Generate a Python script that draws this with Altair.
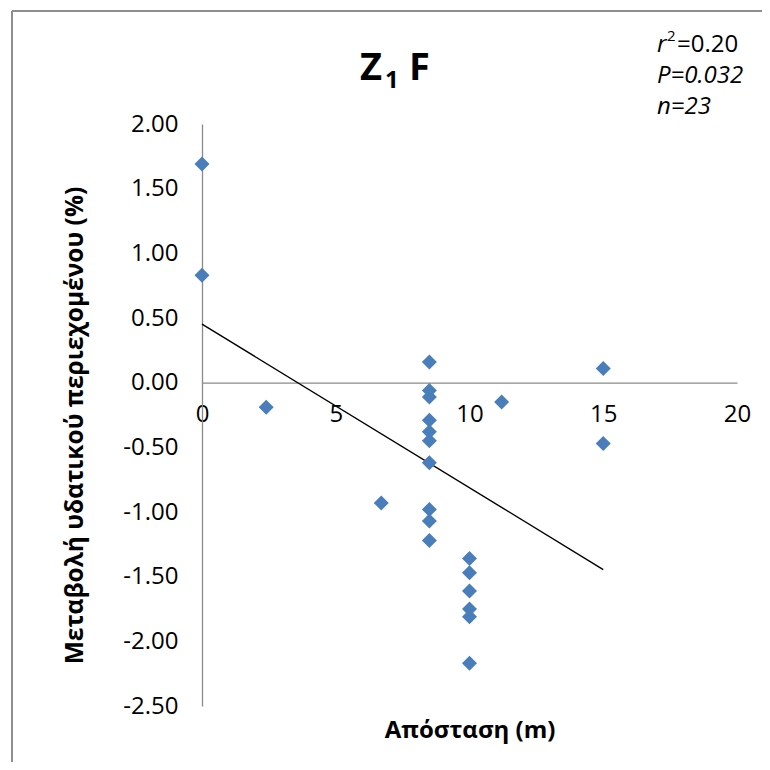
import altair as alt
import pandas as pd

# Data
distance = [0, 0, 2.4, 6.7,
            8.5, 8.5, 8.5, 8.5, 8.5, 8.5, 8.5, 8.5, 8.5, 8.5,
            10, 10, 10, 10, 10, 10,
            11.2, 15, 15]
change = [1.69, 0.83, -0.19, -0.93,
          0.16, -0.06, -0.11, -0.29, -0.38, -0.45, -0.62, -0.98, -1.07, -1.22,
          -1.36, -1.47, -1.61, -1.75, -1.81, -2.17,
          -0.15, 0.11, -0.47]

x_ticks = [0, 5, 10, 15, 20]
y_ticks = [-2.5, -2.0, -1.5, -1.0, -0.5, 0.0, 0.5, 1.0, 1.5, 2.0]

title_main = "Z"
title_sub = "1"
title_rest = "F"
stat_r = "r"
stat_r_sup = "2"
stat_r_val = "=0.20"
stat_p = "P=0.032"
stat_n = "n=23"
x_title = "Απόσταση (m)"
y_title = "Μεταβολή υδατικού περιεχομένου (%)"

df = pd.DataFrame({"distance": distance, "change": change})

W, H = 535, 582
FONT = "Open Sans"
GREY = "#8a8a8a"
zero_offset = -H * 2.5 / 4.5

x_enc = alt.X(
    "distance:Q",
    scale=alt.Scale(domain=[0, 20], nice=False, zero=False),
    axis=alt.Axis(
        values=x_ticks, format="d", offset=zero_offset, grid=False, ticks=False, tickSize=0,
        labelFlush=False, labelOverlap=False,
        domainColor=GREY, domainWidth=1.3, labelFont=FONT, labelFontSize=24,
        labelColor="#000000", labelPadding=20,
        title=x_title, titleFont=FONT, titleFontSize=24, titleFontWeight="bold",
        titleColor="#000000", titleX=W / 2, titleY=355, titleAlign="center",
        titleBaseline="alphabetic", titleAnchor="middle",
    ),
)
y_enc = alt.Y(
    "change:Q",
    scale=alt.Scale(domain=[-2.5, 2.0], nice=False, zero=False),
    axis=alt.Axis(
        values=y_ticks, grid=False, ticks=False, tickSize=0,
        labelFlush=False, labelOverlap=False,
        labelExpr="(datum.value < 0 ? '-' : '') + format(abs(datum.value), '.2f')",
        domainColor=GREY, domainWidth=1.3, labelFont=FONT, labelFontSize=24,
        labelColor="#000000", labelPadding=24,
        title=y_title, titleFont=FONT, titleFontSize=24.5, titleFontWeight="bold",
        titleColor="#000000", titleX=-120, titleY=301, titleAngle=270,
        titleAlign="center", titleBaseline="alphabetic",
    ),
)

base = alt.Chart(df)

points = base.mark_point(
    shape="diamond", filled=True, size=225, color="#4A7EBB", opacity=1
).encode(x=x_enc, y=y_enc)

trend = base.transform_regression("distance", "change").mark_line(
    color="#000000", strokeWidth=1.4
).encode(x="distance:Q", y="change:Q")

one = alt.InlineData(values=[{"k": 1}])


def txt(text, x, y, size, weight="normal", style="normal"):
    return alt.Chart(one).mark_text(
        text=text, font=FONT, fontSize=size, fontWeight=weight, fontStyle=style,
        align="left", baseline="alphabetic", color="#000000",
    ).encode(x=alt.value(x), y=alt.value(y))


texts = [
    txt(title_main, 158, -44, 38, "bold"),
    txt(title_sub, 183, -36, 24, "bold"),
    txt(title_rest, 207, -44, 38, "bold"),
    txt(stat_r, 455, -72, 24, style="italic"),
    txt(stat_r_sup, 465, -83, 15),
    txt(stat_r_val, 475, -72, 24),
    txt(stat_p, 455, -41, 24, style="italic"),
    txt(stat_n, 455, -10, 24, style="italic"),
]

frame_top = alt.Chart(one).mark_rule(color="#8e8e8e", strokeWidth=2).encode(
    x=alt.value(-190), x2=alt.value(620), y=alt.value(-113)
)
frame_left = alt.Chart(one).mark_rule(color="#8e8e8e", strokeWidth=2).encode(
    x=alt.value(-190), y=alt.value(-113), y2=alt.value(700)
)

chart = alt.layer(frame_top, frame_left, trend, points, *texts).properties(
    width=W, height=H,
    autosize=alt.AutoSizeParams(type="none"),
    padding={"left": 194, "top": 116, "right": 25, "bottom": 56},
    background="#ffffff",
).configure_view(stroke=None)

chart.save("out.html", embed_options={"renderer": "svg", "actions": False})
